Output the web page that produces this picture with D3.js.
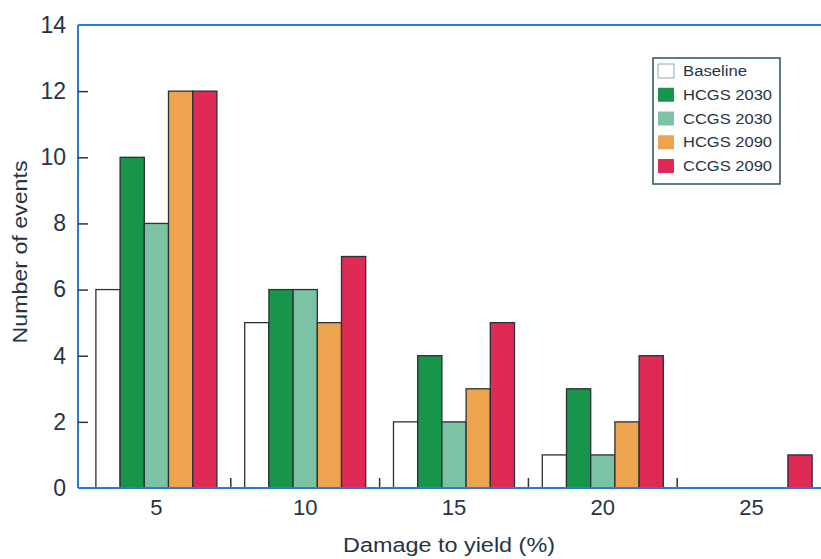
<!DOCTYPE html>
<html>
<head>
<meta charset="utf-8">
<script src="https://cdn.jsdelivr.net/npm/d3@7"></script>
<style>
  html, body { margin: 0; padding: 0; background: #fff; }
  svg { display: block; font-family: "Liberation Sans", Arial, sans-serif; }
</style>
</head>
<body>
<svg id="chart" width="821" height="559"></svg>
<script>
const categories = ["5", "10", "15", "20", "25"];
const seriesNames = ["Baseline", "HCGS 2030", "CCGS 2030", "HCGS 2090", "CCGS 2090"];
const baseline  = [6, 5, 2, 1, 0];
const hcgs2030  = [10, 6, 4, 3, 0];
const ccgs2030  = [8, 6, 2, 1, 0];
const hcgs2090  = [12, 5, 3, 2, 0];
const ccgs2090  = [12, 7, 5, 4, 1];
const yTicks = [0, 2, 4, 6, 8, 10, 12, 14];
const colors = ["#ffffff", "#17964b", "#7cc3a5", "#eea44f", "#de2a55"];

const seriesValues = [baseline, hcgs2030, ccgs2030, hcgs2090, ccgs2090];

(function () {
const svg = d3.select("#chart");
const mLeft = 78, mTop = 25, mBottom = 488, mRight = 821;
const textColor = "#263445";
const axisColor = "#2e7bd0";

const x = d3.scaleBand().domain(categories).range([82, 826]).padding(0);
const xInner = d3.scaleBand().domain(seriesNames).range([0, x.bandwidth()]).paddingInner(0).paddingOuter(0.574);
const y = d3.scaleLinear().domain([0, 14]).range([mBottom, mTop]);

const data = [];
categories.forEach((c, i) => {
  seriesNames.forEach((s, j) => {
    data.push({ cat: c, series: s, value: seriesValues[j][i], color: colors[j] });
  });
});

svg.append("g").selectAll("rect")
  .data(data.filter(d => d.value > 0))
  .join("rect")
  .attr("x", d => x(d.cat) + xInner(d.series))
  .attr("y", d => y(d.value))
  .attr("width", xInner.bandwidth())
  .attr("height", d => y(0) - y(d.value))
  .attr("fill", d => d.color)
  .attr("stroke", "#2a3038")
  .attr("stroke-width", 1.3);

svg.append("line").attr("x1", mLeft).attr("x2", mRight).attr("y1", mTop).attr("y2", mTop)
  .attr("stroke", axisColor).attr("stroke-width", 2);
svg.append("line").attr("x1", mLeft).attr("x2", mLeft).attr("y1", mTop).attr("y2", mBottom)
  .attr("stroke", axisColor).attr("stroke-width", 2);

const yAxis = d3.axisLeft(y).tickValues(yTicks).tickSize(-10).tickPadding(12).tickFormat(d3.format("d"));
const gy = svg.append("g").attr("transform", `translate(${mLeft},0)`).call(yAxis);
gy.select(".domain").remove();
gy.selectAll(".tick line").attr("stroke", textColor).attr("stroke-width", 1.5)
  .filter(d => d === 0 || d === 14).remove();
gy.selectAll(".tick text").attr("fill", textColor).attr("font-size", 23)
  .attr("font-family", "Liberation Sans, Arial, sans-serif");

const xAxis = d3.axisBottom(x).tickSize(0).tickPadding(11);
const gx = svg.append("g").attr("transform", `translate(0,${mBottom})`).call(xAxis);
gx.select(".domain").remove();
gx.selectAll(".tick text").attr("fill", textColor).attr("font-size", 22)
  .attr("font-family", "Liberation Sans, Arial, sans-serif");

svg.append("g").selectAll("line")
  .data(categories.slice(1))
  .join("line")
  .attr("x1", d => x(d)).attr("x2", d => x(d))
  .attr("y1", mBottom - 10).attr("y2", mBottom)
  .attr("stroke", textColor).attr("stroke-width", 1.5);

svg.append("line").attr("x1", mLeft).attr("x2", mRight).attr("y1", mBottom).attr("y2", mBottom)
  .attr("stroke", axisColor).attr("stroke-width", 2);

svg.append("text").attr("x", 449).attr("y", 552).attr("text-anchor", "middle")
  .attr("font-size", 20).attr("fill", textColor)
  .attr("textLength", 212).attr("lengthAdjust", "spacingAndGlyphs")
  .text("Damage to yield (%)");
svg.append("text").attr("transform", "translate(27,252) rotate(-90)").attr("text-anchor", "middle")
  .attr("font-size", 20).attr("fill", textColor)
  .attr("textLength", 183).attr("lengthAdjust", "spacingAndGlyphs")
  .text("Number of events");

const lg = svg.append("g");
lg.append("rect").attr("x", 653).attr("y", 58).attr("width", 127).attr("height", 126)
  .attr("fill", "#fff").attr("stroke", "#2f4f5f").attr("stroke-width", 1.5);
const ly = d3.scalePoint().domain(seriesNames).range([71, 166]);
const items = lg.selectAll("g.item").data(seriesNames).join("g").attr("class", "item")
  .attr("transform", d => `translate(0,${ly(d)})`);
items.append("rect").attr("x", 658).attr("y", -7).attr("width", 16).attr("height", 14)
  .attr("fill", (d, i) => colors[i])
  .attr("stroke", (d, i) => i === 0 ? "#9aa4ad" : "none").attr("stroke-width", 1);
items.append("text").attr("x", 683).attr("y", 5).attr("font-size", 14)
  .attr("fill", textColor).attr("textLength", (d, i) => i === 0 ? 64 : 89)
  .attr("lengthAdjust", "spacingAndGlyphs").text(d => d);
})();
</script>
</body>
</html>
